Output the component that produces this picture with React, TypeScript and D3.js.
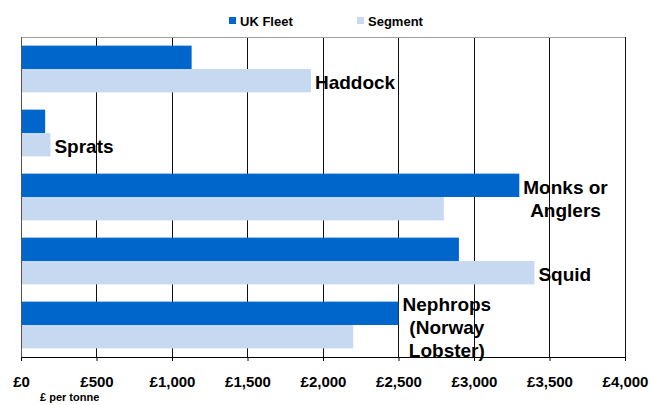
import React, { useRef, useEffect } from "react";
import * as d3 from "d3";

const categories = ["Haddock", "Sprats", "Monks or Anglers", "Squid", "Nephrops (Norway Lobster)"];
const labelLines = [["Haddock"], ["Sprats"], ["Monks or", "Anglers"], ["Squid"], ["Nephrops", "(Norway", "Lobster)"]];
const ukFleet = [1130, 160, 3300, 2900, 2500];
const segment = [1920, 195, 2800, 3400, 2200];
const xTicks = [0, 500, 1000, 1500, 2000, 2500, 3000, 3500, 4000];
const seriesNames = ["UK Fleet", "Segment"];
const seriesColors = ["#0066CC", "#C6D9F1"];

const W = 650;
const H = 405;

const App: React.FC = () => {
  const svgRef = useRef<SVGSVGElement>(null);

  useEffect(() => {
    const svg = d3.select(svgRef.current);
    svg.selectAll("*").remove();

    const left = 21, right = 625, top = 37, bottom = 357;
    const font = "'Liberation Sans', Arial, sans-serif";

    const x = d3.scaleLinear().domain([0, 4000]).range([left, right]);
    const y = d3
      .scaleBand<string>()
      .domain(categories)
      .range([top, bottom])
      .paddingInner(0.27)
      .paddingOuter(0.135);
    const sub = d3.scaleBand<string>().domain(seriesNames).range([0, y.bandwidth()]);

    // grid lines
    svg
      .selectAll(".grid")
      .data(xTicks.slice(1))
      .join("line")
      .attr("x1", (d) => x(d))
      .attr("x2", (d) => x(d))
      .attr("y1", top)
      .attr("y2", bottom)
      .attr("stroke", "#111")
      .attr("stroke-width", 1)
      .attr("shape-rendering", "crispEdges");

    // top border
    svg
      .append("line")
      .attr("x1", left)
      .attr("x2", right)
      .attr("y1", top)
      .attr("y2", top)
      .attr("stroke", "#a0a0a0")
      .attr("shape-rendering", "crispEdges");

    // bars
    const rows = categories.map((c, i) => ({ c, vals: [ukFleet[i], segment[i]] }));
    rows.forEach((r) => {
      r.vals.forEach((v, j) => {
        svg
          .append("rect")
          .attr("x", x(0))
          .attr("y", y(r.c)! + sub(seriesNames[j])!)
          .attr("width", x(v) - x(0))
          .attr("height", sub.bandwidth())
          .attr("fill", seriesColors[j]);
      });
    });

    // left axis line
    svg
      .append("line")
      .attr("x1", left)
      .attr("x2", left)
      .attr("y1", top)
      .attr("y2", bottom + 4)
      .attr("stroke", "#555")
      .attr("shape-rendering", "crispEdges");

    // bottom axis
    const ax = svg
      .append("g")
      .attr("transform", `translate(0,${bottom})`)
      .call(
        d3
          .axisBottom(x)
          .tickValues(xTicks)
          .tickSize(4)
          .tickPadding(15)
          .tickFormat((d) => "£" + d3.format(",")(d as number))
      );
    ax.select(".domain").attr("stroke", "#000");
    ax.selectAll("line").attr("stroke", "#000");
    ax.selectAll("text")
      .attr("font-family", font)
      .attr("font-weight", "bold")
      .attr("font-size", 15)
      .attr("fill", "#000");

    svg
      .append("text")
      .attr("x", 40)
      .attr("y", 401)
      .attr("font-family", font)
      .attr("font-weight", "bold")
      .attr("font-size", 11)
      .text("£ per tonne");

    // category labels
    rows.forEach((r, i) => {
      const lines = labelLines[i];
      const endX = x(Math.max(...r.vals)) + 4;
      const lh = 23;
      let cy: number;
      if (lines.length > 1) cy = y(r.c)! + y.bandwidth() / 2 - ((lines.length - 1) * lh) / 2;
      else cy = y(r.c)! + sub("Segment")! + sub.bandwidth() / 2;
      const t = svg
        .append("text")
        .attr("font-family", font)
        .attr("font-weight", "bold")
        .attr("font-size", 19)
        .attr("fill", "#000")
        .attr("text-anchor", "middle");
      const spans = lines.map((l, k) =>
        t
          .append("tspan")
          .attr("y", cy + k * lh + 2)
          .attr("dominant-baseline", "central")
          .text(l)
      );
      const maxW = d3.max(spans, (s) => (s.node() as SVGTSpanElement).getComputedTextLength()) || 0;
      spans.forEach((s) => s.attr("x", endX + maxW / 2));
    });

    // legend
    const lg = svg.append("g");
    const lx = [229, 357];
    seriesNames.forEach((n, i) => {
      lg.append("rect")
        .attr("x", lx[i])
        .attr("y", 17)
        .attr("width", 7)
        .attr("height", 7)
        .attr("fill", seriesColors[i]);
      lg.append("text")
        .attr("x", lx[i] + 11)
        .attr("y", 26)
        .attr("font-family", font)
        .attr("font-weight", "bold")
        .attr("font-size", 13)
        .text(n);
    });
  }, []);

  return (
    <svg
      ref={svgRef}
      width={W}
      height={H}
      style={{ position: "absolute", left: 0, top: 0, background: "#fff" }}
    />
  );
};

export default App;
